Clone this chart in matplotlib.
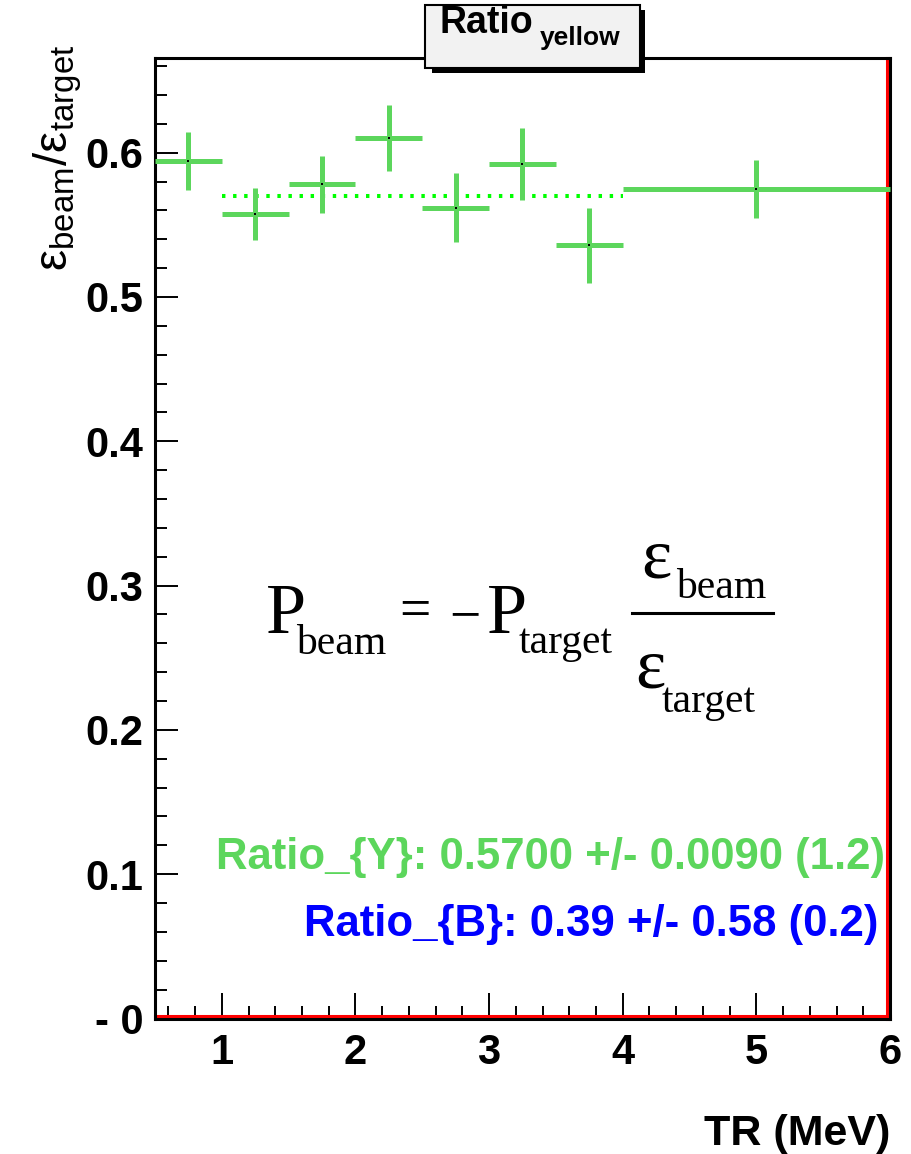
import matplotlib
matplotlib.use('Agg')
import matplotlib.pyplot as plt
import matplotlib.transforms as mtransforms
from matplotlib.lines import Line2D
from matplotlib.patches import Rectangle
from matplotlib.ticker import MultipleLocator

# ---------------------------------------------------------------
# data: efficiency ratio per TR bin (yellow beam)
# ---------------------------------------------------------------
bin_lo = [0.5, 1.0, 1.5, 2.0, 2.5, 3.0, 3.5, 4.0]
bin_hi = [1.0, 1.5, 2.0, 2.5, 3.0, 3.5, 4.0, 6.0]
ratio = [0.594, 0.5575, 0.578, 0.610, 0.562, 0.592, 0.536, 0.575]
ratio_err = [0.020, 0.018, 0.020, 0.023, 0.024, 0.025, 0.026, 0.020]

# constant fit over 1-4 MeV
fit_range = [1.0, 4.0]
fit_y, fit_y_err, fit_y_chi2 = 0.5700, 0.0090, 1.2
fit_b, fit_b_err, fit_b_chi2 = 0.39, 0.58, 0.2

y_ticks = [0.0, 0.1, 0.2, 0.3, 0.4, 0.5, 0.6]
y_tick_labels = ['- 0', '0.1', '0.2', '0.3', '0.4', '0.5', '0.6']
x_ticks = [1, 2, 3, 4, 5, 6]

green = '#5cd65c'
W, H = 912, 1154

plt.rcParams['font.family'] = 'Liberation Sans'
plt.rcParams['mathtext.fontset'] = 'custom'
plt.rcParams['mathtext.rm'] = 'Liberation Sans'
plt.rcParams['mathtext.it'] = 'Liberation Sans'


def fx(px):
    return px / W


def fy(py):
    return 1 - py / H


fig = plt.figure(figsize=(W / 100, H / 100), dpi=100)
ax = fig.add_axes([fx(155), fy(1018.5), 735 / W, 960.5 / H])
ax.set_xlim(0.5, 6.0)
ax.set_ylim(0.0, 0.6656)

# points with bin-width x errors
xc = [(a + b) / 2 for a, b in zip(bin_lo, bin_hi)]
xw = [(b - a) / 2 for a, b in zip(bin_lo, bin_hi)]
ax.errorbar(xc, ratio, xerr=xw, yerr=ratio_err, fmt='none',
            ecolor=green, elinewidth=3.6, capsize=0, zorder=3, clip_on=False)
ax.plot(xc, ratio, 's', color='black', ms=1.6, mew=0, zorder=4)

# fit line
ax.plot(fit_range, [fit_y, fit_y], color='#00ff00', lw=2.9,
        dashes=(0.85, 1.9), dash_capstyle='butt', zorder=2.5)

# red zero-level outline along the bottom and right of the frame
bot = mtransforms.offset_copy(ax.transData, fig=fig, x=0, y=2.5, units='dots')
rgt = mtransforms.offset_copy(ax.transData, fig=fig, x=-2.5, y=0, units='dots')
ax.plot([0.5, 6.0], [0, 0], color='red', lw=2.2, transform=bot, clip_on=False, zorder=2)
ax.plot([6.0, 6.0], [0, 0.6656], color='red', lw=2.2, transform=rgt, clip_on=False, zorder=2)

# frame and ticks
for s in ax.spines.values():
    s.set_linewidth(2.2)
ax.set_yticks(y_ticks)
ax.set_yticklabels(y_tick_labels)
ax.set_xticks(x_ticks)
ax.yaxis.set_minor_locator(MultipleLocator(0.02))
ax.xaxis.set_minor_locator(MultipleLocator(0.2))
ax.tick_params(which='both', direction='in', top=False, right=False, width=1.4)
ax.tick_params(axis='y', which='major', length=16.6, pad=8.5)
ax.tick_params(axis='y', which='minor', length=8.6)
ax.tick_params(axis='x', which='major', length=18.7, pad=10.5)
ax.tick_params(axis='x', which='minor', length=9.4)
for lab in ax.get_xticklabels() + ax.get_yticklabels():
    lab.set_fontsize(30)
    lab.set_fontweight('bold')

# axis titles
fig.text(fx(890), fy(1145), 'TR (MeV)', ha='right', va='baseline',
         fontsize=31, fontweight='bold')
fig.text(fx(58), fy(45), r'ε$_{\rm beam}$/ε$_{\rm target}$', rotation=90,
         ha='center', va='top', fontsize=34, math_fontfamily='custom')

# formula  P_beam = -P_target * eps_beam / eps_target
serif = 'Liberation Serif'
big, small, op = 52, 30, 40
pieces = [
    ('P', 266, 633, big), ('beam', 296, 654, small),
    ('=', 399, 627, op), ('\u2212', 449, 632, op),
    ('P', 487, 633, big), ('target', 519, 653, small),
    ('ε', 641, 577, big), ('beam', 676, 598, small),
    ('ε', 635, 688, big), ('target', 662, 712, small),
]
for txt, px, py, size in pieces:
    fig.text(fx(px), fy(py), txt, ha='left', va='baseline',
             fontsize=size, family=serif)
fig.add_artist(Line2D([fx(632), fx(773)], [fy(613), fy(613)],
                      color='black', lw=2.2, transform=fig.transFigure))

# fit results
fig.text(fx(885), fy(869),
         'Ratio_{Y}: %.4f +/- %.4f (%.1f)' % (fit_y, fit_y_err, fit_y_chi2),
         ha='right', va='baseline', fontsize=31.5, fontweight='bold', color=green)
fig.text(fx(878), fy(936),
         'Ratio_{B}: %.2f +/- %.2f (%.1f)' % (fit_b, fit_b_err, fit_b_chi2),
         ha='right', va='baseline', fontsize=31.5, fontweight='bold', color='#0000ff')

# title box with shadow
fig.add_artist(Rectangle((fx(432), fy(73)), (645 - 432) / W, (73 - 10) / H,
                         transform=fig.transFigure, facecolor='black',
                         edgecolor='none', zorder=5))
fig.add_artist(Rectangle((fx(425), fy(68)), (640 - 425) / W, (68 - 5) / H,
                         transform=fig.transFigure, facecolor='#f2f2f2',
                         edgecolor='black', lw=1.5, zorder=6))
fig.text(fx(440), fy(33), 'Ratio', ha='left', va='baseline', fontsize=27,
         fontweight='bold', zorder=7)
fig.text(fx(540), fy(45), 'yellow', ha='left', va='baseline', fontsize=19,
         fontweight='bold', zorder=7)

fig.savefig('out.png', dpi=100)
